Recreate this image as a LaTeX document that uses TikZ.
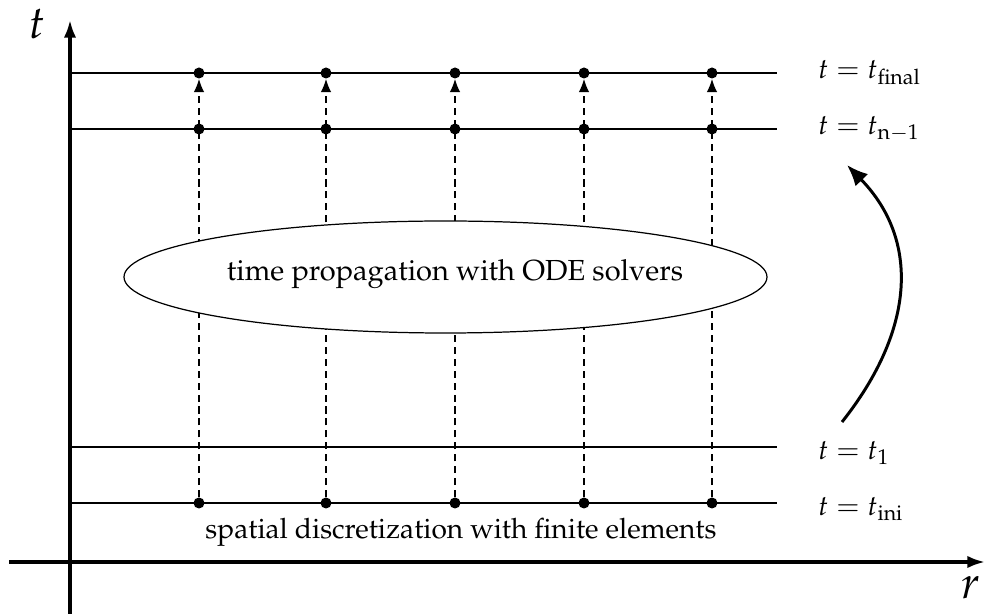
\documentclass[tikz,border=0pt]{standalone}
\usepackage[T1]{fontenc}
\usepackage{mathpazo}
\usetikzlibrary{arrows.meta,shapes.geometric}
\begin{document}
\begin{tikzpicture}[x=0.02cm,y=-0.02cm,
  axis/.style={line width=1.8pt,-{Latex[length=10pt,width=7pt]}},
  level/.style={line width=1.1pt},
  dot/.style={circle,fill=black,inner sep=0pt,minimum size=11*0.02cm},
  dashup/.style={line width=0.9pt,dash pattern=on 4pt off 2.8pt,-{Latex[length=7.5pt,width=6pt]},shorten >=0pt},
  lab/.style={anchor=west,inner sep=0pt,font=\fontsize{16}{19}\selectfont},
  txt/.style={inner sep=0pt,font=\fontsize{16}{19}\selectfont}]
\useasboundingbox (0,0) rectangle (985,614);
% axes
\coordinate (tb) at (70,614);
\coordinate (tt) at (70,20);
\coordinate (rl) at (9,562);
\coordinate (rr) at (985,562);
\draw[axis] (tb) -- (tt);
\draw[axis] (rl) -- (rr);
\node[txt] (tlab) at (37,24) {\fontsize{26}{30}\selectfont$t$};
\node[txt] (rlab) at (971,588) {\fontsize{26}{30}\selectfont$r$};
% levels
\foreach \n/\y in {f/73,m/129,o/447,i/503}{
  \coordinate (L\n) at (70,\y);
  \coordinate (R\n) at (777,\y);
  \draw[level] (L\n) -- (R\n);
}
\node[lab] (lf) at (818,73) {$t = t_{\mathrm{final}}$};
\node[lab] (lm) at (818,129) {$t = t_{\mathrm{n-1}}$};
\node[lab] (lo) at (818,453) {$t = t_{1}$};
\node[lab] (li) at (818,509) {$t = t_{\mathrm{ini}}$};
% dots and dashed arrows
\foreach \k/\x in {1/199,2/326,3/455,4/584,5/712}{
  \node[dot] (f\k) at (\x,73) {};
  \node[dot] (m\k) at (\x,129) {};
  \node[dot] (i\k) at (\x,503) {};
  \draw[dashup] (i\k) -- (f\k);
}
% ellipse
\node[ellipse,draw,fill=white,line width=0.7pt,minimum width=643*0.02cm,minimum height=112*0.02cm,inner sep=0pt] (ell) at (445.5,277) {};
\node[txt,font=\fontsize{16.5}{19}\selectfont] (elltxt) at (455,274) {time propagation with ODE solvers};
\node[txt] (sd) at (461,532) {spatial discretization with finite elements};
% curved arrow
\coordinate (ca) at (842,422);
\coordinate (cb) at (847,165);
\draw[line width=1.7pt,-{Latex[length=12pt,width=10pt]}] (ca) .. controls (915,330) and (920,240) .. (cb);
\end{tikzpicture}
\end{document}
